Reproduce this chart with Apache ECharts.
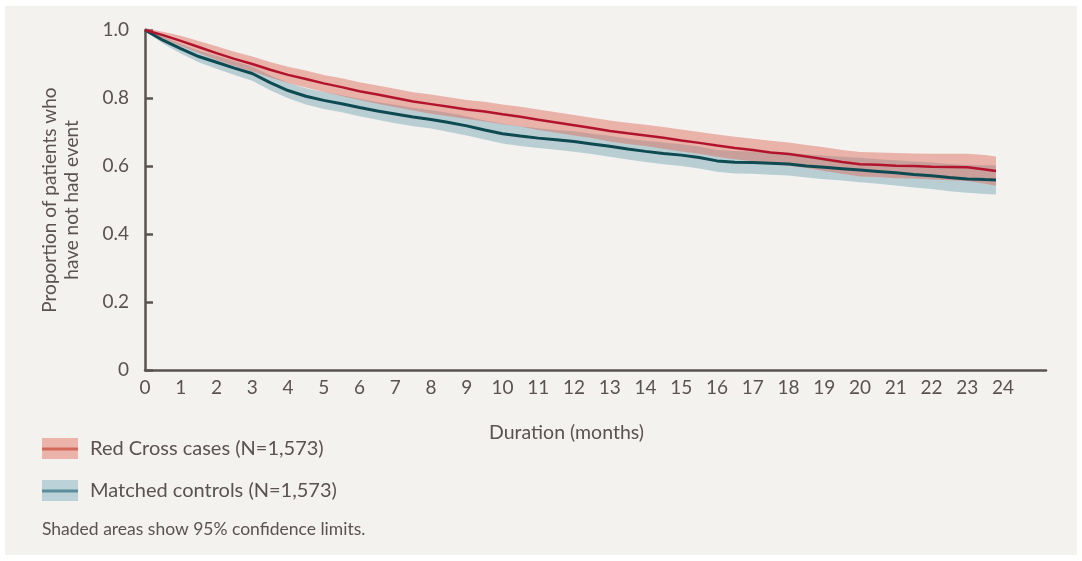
<!DOCTYPE html>
<html>
<head>
<meta charset="utf-8">
<script src="https://cdn.jsdelivr.net/npm/echarts@6/dist/echarts.min.js"></script>
<style>
html,body{margin:0;padding:0;background:#ffffff;}
#chart{width:1082px;height:561px;}
</style>
</head>
<body>
<div id="chart"></div>
<script>
// Time points (months)
const months = [0,0.5,1,1.5,2,2.5,3,3.5,4,4.5,5,5.5,6,6.5,7,7.5,8,8.5,9,9.5,10,10.5,11,11.5,12,12.5,13,13.5,14,14.5,15,15.5,16,16.5,17,17.5,18,18.5,19,19.5,20,20.5,21,21.5,22,22.5,23,23.5,23.8];

// Red Cross cases: survival estimate and 95% limits
const casesEst = [1.000,0.985,0.968,0.950,0.932,0.915,0.900,0.883,0.868,0.856,0.843,0.832,0.820,0.810,0.800,0.790,0.782,0.774,0.766,0.760,0.752,0.745,0.736,0.728,0.720,0.712,0.703,0.696,0.690,0.683,0.675,0.668,0.660,0.653,0.647,0.640,0.635,0.628,0.620,0.612,0.605,0.604,0.601,0.600,0.598,0.597,0.596,0.590,0.585];
const casesLow = [0.996,0.975,0.953,0.932,0.912,0.894,0.878,0.860,0.844,0.831,0.818,0.806,0.794,0.783,0.773,0.763,0.754,0.746,0.738,0.731,0.723,0.716,0.706,0.698,0.690,0.682,0.672,0.665,0.659,0.651,0.643,0.636,0.627,0.620,0.614,0.606,0.601,0.594,0.585,0.577,0.569,0.568,0.564,0.563,0.560,0.558,0.556,0.548,0.542];
const casesHigh = [1.006,0.995,0.983,0.968,0.952,0.936,0.922,0.906,0.892,0.881,0.868,0.858,0.846,0.837,0.827,0.817,0.810,0.802,0.794,0.789,0.781,0.774,0.766,0.758,0.750,0.742,0.734,0.727,0.721,0.715,0.707,0.700,0.693,0.686,0.680,0.674,0.669,0.662,0.655,0.647,0.641,0.640,0.638,0.637,0.636,0.636,0.636,0.632,0.628];

// Matched controls: survival estimate and 95% limits
const controlsEst = [1.000,0.970,0.945,0.922,0.905,0.888,0.872,0.845,0.822,0.805,0.793,0.783,0.772,0.762,0.753,0.744,0.737,0.728,0.718,0.706,0.695,0.688,0.682,0.677,0.672,0.665,0.658,0.650,0.643,0.637,0.632,0.625,0.615,0.611,0.610,0.608,0.606,0.600,0.596,0.592,0.588,0.584,0.580,0.575,0.571,0.566,0.562,0.560,0.559];
const controlsLow = [0.996,0.960,0.931,0.905,0.886,0.868,0.851,0.823,0.799,0.781,0.768,0.758,0.746,0.736,0.726,0.717,0.710,0.700,0.690,0.678,0.666,0.659,0.653,0.648,0.642,0.635,0.627,0.619,0.612,0.605,0.600,0.593,0.583,0.578,0.577,0.574,0.572,0.566,0.561,0.557,0.552,0.548,0.543,0.537,0.532,0.526,0.521,0.518,0.516];
const controlsHigh = [1.006,0.980,0.959,0.939,0.924,0.908,0.893,0.867,0.845,0.829,0.818,0.808,0.798,0.788,0.780,0.771,0.764,0.756,0.746,0.734,0.724,0.717,0.711,0.706,0.702,0.695,0.689,0.681,0.674,0.669,0.664,0.657,0.647,0.644,0.643,0.642,0.640,0.634,0.631,0.627,0.624,0.620,0.617,0.613,0.610,0.606,0.603,0.602,0.602];

const yTicks = [0,0.2,0.4,0.6,0.8,1.0];
const legendLabels = ['Red Cross cases (N=1,573)','Matched controls (N=1,573)'];
const noteText = 'Shaded areas show 95% confidence limits.';

const FONT = 'Lato, "Noto Sans", sans-serif';
const TXT = '#5a5250';
const AX = '#5b5351';

const pairs = (ys) => months.map((m,i)=>[m, ys[i]]);
const bandData = (lo, hi) => months.map((m,i)=>[m, lo[i], hi[i]]);

// Confidence band drawn as one polygon through the axes' own scales
function bandRenderer(lo, hi, fill){
  return function(params, api){
    if (params.dataIndex !== 0) return null;
    const pts = [];
    for (let i = 0; i < months.length; i++) pts.push(api.coord([months[i], hi[i]]));
    for (let i = months.length - 1; i >= 0; i--) pts.push(api.coord([months[i], lo[i]]));
    return {type:'polygon', shape:{points:pts}, style:{fill:fill}};
  };
}

const chart = echarts.init(document.getElementById('chart'), null, {renderer:'canvas'});

chart.setOption({
  animation:false,
  backgroundColor:'#ffffff',
  textStyle:{fontFamily:FONT, color:TXT},
  grid:{left:145, right:36, top:30, bottom:191, containLabel:false},
  xAxis:{
    type:'value', min:0, max:25.2, interval:1,
    axisLine:{show:true, lineStyle:{color:AX, width:2.5}},
    axisTick:{show:false},
    splitLine:{show:false},
    axisLabel:{color:TXT, fontSize:19, fontFamily:FONT, margin:8,
      formatter:(v)=> (v<=24 && Number.isInteger(v)) ? String(v) : ''},
    name:'Duration (months)', nameLocation:'middle', nameGap:53,
    nameTextStyle:{color:TXT, fontSize:19.5, fontFamily:FONT, padding:[0,58,0,0]}
  },
  yAxis:{
    type:'value', min:0, max:1, interval:0.2,
    axisLine:{show:true, lineStyle:{color:AX, width:2.5}},
    axisTick:{show:true, inside:true, length:8, lineStyle:{color:AX, width:2.5}},
    splitLine:{show:false},
    axisLabel:{color:TXT, fontSize:19, fontFamily:FONT, margin:16,
      formatter:(v)=> v===0 ? '0' : v.toFixed(1)},
    name:'Proportion of patients who\nhave not had event', nameLocation:'middle', nameGap:62, nameRotate:90,
    nameTextStyle:{color:TXT, fontSize:19, lineHeight:22, fontFamily:FONT}
  },
  graphic:[
    {type:'rect', z:-10, shape:{x:5, y:6, width:1072, height:549}, style:{fill:'#f3f2ef'}},
    {type:'rect', shape:{x:42, y:438, width:36, height:21}, style:{fill:'#ecb3aa'}},
    {type:'line', shape:{x1:42, y1:449, x2:78, y2:449}, style:{stroke:'#d4685b', lineWidth:3}},
    {type:'text', x:90, y:449, style:{text:legendLabels[0], fill:TXT, font:'20px '+FONT, verticalAlign:'middle'}},
    {type:'rect', shape:{x:42, y:480, width:36, height:21}, style:{fill:'#bcd2d9'}},
    {type:'line', shape:{x1:42, y1:491, x2:78, y2:491}, style:{stroke:'#5a8e9a', lineWidth:3}},
    {type:'text', x:90, y:491, style:{text:legendLabels[1], fill:TXT, font:'20px '+FONT, verticalAlign:'middle'}},
    {type:'text', x:42, y:529, style:{text:noteText, fill:TXT, font:'17.5px '+FONT, verticalAlign:'middle'}}
  ],
  series:[
    {type:'custom', name:'controlsBand', data:bandData(controlsLow, controlsHigh), silent:true, clip:false, z:1,
      encode:{x:0, y:[1,2]},
      renderItem:bandRenderer(controlsLow, controlsHigh, 'rgba(120,165,180,0.47)')},
    {type:'custom', name:'casesBand', data:bandData(casesLow, casesHigh), silent:true, clip:false, z:2,
      encode:{x:0, y:[1,2]},
      renderItem:bandRenderer(casesLow, casesHigh, 'rgba(222,102,86,0.45)')},
    {type:'line', name:legendLabels[1], data:pairs(controlsEst), symbol:'none', z:3, clip:false,
      lineStyle:{color:'#0e4a52', width:3}},
    {type:'line', name:legendLabels[0], data:pairs(casesEst), symbol:'none', z:4, clip:false,
      lineStyle:{color:'#b3142d', width:2.5}}
  ]
});
</script>
</body>
</html>
